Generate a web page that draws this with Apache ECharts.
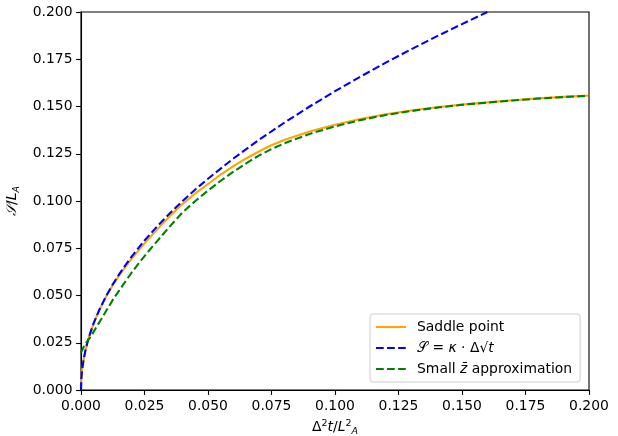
<!DOCTYPE html>
<html>
<head>
<meta charset="utf-8">
<script src="https://cdn.jsdelivr.net/npm/echarts@6/dist/echarts.min.js"></script>
<style>html,body{margin:0;padding:0;background:#fff}#c{width:618px;height:436px}</style>
</head>
<body>
<div id="c"></div>
<script>
// x values (Δ²t/L_A²) and series values
const blueX  = [0, 0.0001, 0.0003, 0.0006, 0.001, 0.0017, 0.0025, 0.0035, 0.005, 0.007, 0.01, 0.0125, 0.015, 0.0175, 0.02, 0.025, 0.03, 0.035, 0.04, 0.045, 0.05, 0.06, 0.07, 0.08, 0.09, 0.10, 0.11, 0.12, 0.13, 0.14, 0.15, 0.16];
const blueY  = [0, 0.005, 0.0087, 0.0122, 0.0158, 0.0206, 0.025, 0.0296, 0.0354, 0.0418, 0.050, 0.0559, 0.0612, 0.0661, 0.0707, 0.0791, 0.0866, 0.0935, 0.100, 0.1061, 0.1118, 0.1225, 0.1323, 0.1414, 0.150, 0.1581, 0.1658, 0.1732, 0.1803, 0.1871, 0.1936, 0.200];

const saddleX = [0, 0.0001, 0.0003, 0.0006, 0.001, 0.0017, 0.0025, 0.0035, 0.005, 0.007, 0.01, 0.0125, 0.015, 0.0175, 0.02, 0.025, 0.03, 0.035, 0.04, 0.045, 0.05, 0.055, 0.06, 0.065, 0.07, 0.075, 0.08, 0.09, 0.10, 0.11, 0.12, 0.13, 0.14, 0.15, 0.16, 0.17, 0.18, 0.19, 0.20];
const saddleY = [0, 0.005, 0.0087, 0.0122, 0.0158, 0.0206, 0.025, 0.0296, 0.0353, 0.0416, 0.0497, 0.0554, 0.0605, 0.0651, 0.0695, 0.0776, 0.0850, 0.0920, 0.0985, 0.1040, 0.1090, 0.1140, 0.1185, 0.1225, 0.1262, 0.1295, 0.1323, 0.1368, 0.1404, 0.1434, 0.1459, 0.1479, 0.1496, 0.1510, 0.1522, 0.1533, 0.1543, 0.1551, 0.1558];

const smallZX = [0, 0.0005, 0.001, 0.002, 0.003, 0.004, 0.006, 0.008, 0.0105, 0.013, 0.0165, 0.02, 0.023, 0.026, 0.03, 0.035, 0.04, 0.045, 0.05, 0.055, 0.06, 0.065, 0.07, 0.075, 0.08, 0.09, 0.10, 0.11, 0.12, 0.13, 0.14, 0.15, 0.16, 0.17, 0.18, 0.19, 0.20];
const smallZY = [0.0196, 0.0212, 0.0226, 0.0250, 0.0268, 0.0285, 0.0332, 0.0376, 0.0432, 0.0487, 0.0555, 0.0622, 0.0675, 0.0725, 0.0788, 0.0866, 0.0940, 0.1000, 0.1055, 0.1107, 0.1155, 0.1199, 0.1240, 0.1275, 0.1305, 0.1355, 0.1395, 0.1428, 0.1455, 0.1476, 0.1494, 0.1509, 0.1521, 0.1532, 0.1542, 0.1550, 0.1557];

const xTicks = [0, 0.2, 0.025];
const yTicks = [0, 0.2, 0.025];
const seriesNames = ['Saddle point', '𝒮 = κ · Δ√t', 'Small z̄ approximation'];
const legendLabels = ['Saddle point', '𝒮 = {i|κ} · Δ√{i|t}', 'Small {i|z̄} approximation'];

const zip = (xs, ys) => xs.map((x, i) => [x, ys[i]]);
const font = 'DejaVu Sans';
const FS = 13.9;
const LW = 2.08;
const DASH = [7.7, 3.33];
const chart = echarts.init(document.getElementById('c'));
const axisCommon = {
  type: 'value',
  axisLine: { show: true, onZero: false, lineStyle: { color: '#000', width: 1.1 } },
  axisTick: { show: true, inside: false, length: 4.9, lineStyle: { color: '#000', width: 1.1 } },
  splitLine: { show: false },
  axisLabel: { color: '#000', fontFamily: font, fontSize: FS, formatter: v => v.toFixed(3) }
};
chart.setOption({
  animation: false,
  backgroundColor: '#fff',
  grid: { left: 81, right: 29, top: 12, bottom: 46, containLabel: false, outerBoundsMode: 'none',
    show: true, borderColor: '#000', borderWidth: 1.1, backgroundColor: 'transparent' },
  xAxis: Object.assign({}, axisCommon, {
    min: xTicks[0], max: xTicks[1], interval: xTicks[2],
    axisLabel: Object.assign({}, axisCommon.axisLabel, { margin: 9.5 }),
    name: 'Δ{sup|2}{i|t}/{i|L}{sup|2}{sub|A}',
    nameLocation: 'middle', nameGap: 27,
    nameTextStyle: { color: '#000', fontFamily: font, fontSize: FS,
      rich: { sup: { fontSize: 9.5, fontFamily: font, padding: [0,0,8,0], color: '#000' },
              sub: { fontSize: 9.5, fontFamily: font, fontStyle: 'italic', padding: [8,0,0,0], color: '#000' },
              i: { fontStyle: 'italic', fontSize: FS, fontFamily: font, color: '#000' } } }
  }),
  yAxis: Object.assign({}, axisCommon, {
    min: yTicks[0], max: yTicks[1], interval: yTicks[2],
    axisLabel: Object.assign({}, axisCommon.axisLabel, { margin: 8.5 }),
    name: '{i|𝒮}/{i|L}{sub|A}',
    nameLocation: 'middle', nameGap: 51,
    nameTextStyle: { color: '#000', fontFamily: font, fontSize: FS,
      rich: { sub: { fontSize: 9.5, fontFamily: font, fontStyle: 'italic', padding: [8,0,0,0], color: '#000' },
              i: { fontStyle: 'italic', fontSize: FS, fontFamily: font, color: '#000' } } }
  }),
  legend: {
    orient: 'vertical', left: 370, top: 314,
    padding: [6, 8, 6, 5], itemGap: 7, itemWidth: 30, itemHeight: 14,
    backgroundColor: 'rgba(255,255,255,0.8)', borderColor: '#ccc', borderWidth: 1, borderRadius: 3,
    itemStyle: { opacity: 0 },
    lineStyle: { width: LW },
    formatter: name => legendLabels[seriesNames.indexOf(name)],
    textStyle: { color: '#000', fontFamily: font, fontSize: FS, padding: [0, 0, 0, 6],
      rich: { i: { fontStyle: 'italic', fontFamily: font, fontSize: FS, color: '#000' } } },
    data: seriesNames
  },
  series: [
    { name: seriesNames[0], type: 'line', data: zip(saddleX, saddleY), showSymbol: false, symbol: 'none', smooth: false,
      lineStyle: { color: '#FFA500', width: LW }, itemStyle: { color: '#FFA500' }, z: 2 },
    { name: seriesNames[1], type: 'line', data: zip(blueX, blueY), showSymbol: false, symbol: 'none', smooth: false,
      lineStyle: { color: '#0000FF', width: LW, type: DASH }, itemStyle: { color: '#0000FF' }, z: 3 },
    { name: seriesNames[2], type: 'line', data: zip(smallZX, smallZY), showSymbol: false, symbol: 'none', smooth: false,
      lineStyle: { color: '#008000', width: LW, type: DASH }, itemStyle: { color: '#008000' }, z: 4 }
  ]
});
</script>
</body>
</html>
